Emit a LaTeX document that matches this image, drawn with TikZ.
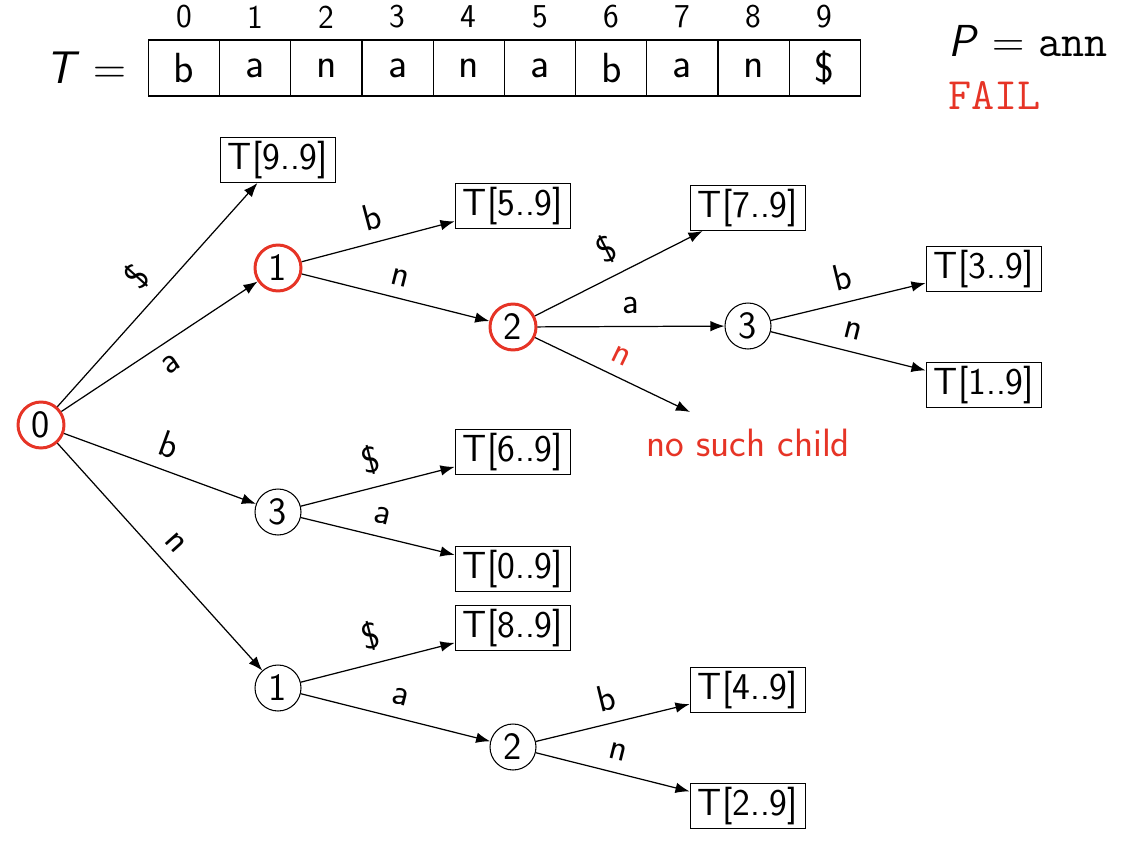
\documentclass[tikz,border=0pt]{standalone}
\usepackage{fontspec}
\usetikzlibrary{arrows.meta}
\definecolor{hlred}{RGB}{230,52,38}
\begin{document}
\begin{tikzpicture}[x=0.02cm,y=-0.02cm,
  every node/.style={font=\sffamily},
  st/.style={circle,draw,line width=0.6pt,minimum size=0.92cm,inner sep=0pt,font=\fontsize{22}{26}\selectfont\sffamily},
  hot/.style={draw=hlred,line width=1.7pt},
  leaf/.style={draw,line width=0.6pt,minimum height=0.9cm,inner xsep=4.5pt,inner ysep=0pt,font=\fontsize{21.5}{25}\selectfont\sffamily},
  edge/.style={-{Latex[length=8pt,width=6pt]},line width=0.7pt},
  lab/.style={font=\fontsize{21}{24}\selectfont\sffamily,sloped,above=3.5pt},
  labb/.style={font=\fontsize{21}{24}\selectfont\sffamily,sloped,below=3.5pt},
  cell/.style={draw,line width=0.6pt,minimum width=1.424cm,minimum height=1.12cm,inner sep=0pt,font=\fontsize{24}{28}\selectfont\sffamily},
  idx/.style={font=\fontsize{19}{22}\selectfont\sffamily}
]
\useasboundingbox (0,0) rectangle (1122,848);
% array
\foreach \c [count=\i from 0] in {b,a,n,a,n,a,b,a,n,\$} {
  \node[cell] (c\i) at ({184+71.2*\i},68) {\c};
  \node[idx] (i\i) at ({184+71.2*\i},17) {\i};
}
\node[font=\fontsize{26}{30}\selectfont\sffamily] (teq) at (86,68) {\textit{T} {\rmfamily =}};
\node[font=\fontsize{25.5}{30}\selectfont\sffamily,anchor=west] (peq) at (942,41) {\textit{P} {\rmfamily =} {\ttfamily ann}};
\node[font=\fontsize{25.5}{30}\selectfont\ttfamily,text=hlred,anchor=west] (fail) at (942,95) {FAIL};
% tree nodes
\node[st,hot] (r) at (41,425) {0};
\node[st,hot] (a) at (278,268) {1};
\node[st,hot] (an) at (513,327) {2};
\node[st] (ana) at (748,326) {3};
\node[st] (b) at (278,512) {3};
\node[st] (n) at (278,688) {1};
\node[st] (na) at (513,747) {2};
% leaves
\node[leaf] (l9) at (278,160) {T[9..9]};
\node[leaf] (l5) at (513,206) {T[5..9]};
\node[leaf] (l7) at (748,208) {T[7..9]};
\node[leaf] (l3) at (984,269) {T[3..9]};
\node[leaf] (l1) at (984,385) {T[1..9]};
\node[leaf] (l6) at (513,452) {T[6..9]};
\node[leaf] (l0) at (513,569) {T[0..9]};
\node[leaf] (l8) at (513,628) {T[8..9]};
\node[leaf] (l4) at (748,690) {T[4..9]};
\node[leaf] (l2) at (748,806) {T[2..9]};
\coordinate (miss) at (690,412);
\node[text=hlred,font=\fontsize{22.5}{26}\selectfont\sffamily] (nsc) at (748,443) {no such child};
% edges
\draw[edge] (r) -- node[lab]{\$} (l9);
\draw[edge] (r) -- node[labb]{a} (a);
\draw[edge] (r) -- node[lab]{b} (b);
\draw[edge] (r) -- node[lab]{n} (n);
\draw[edge] (a) -- node[lab]{b} (l5);
\draw[edge] (a) -- node[lab]{n} (an);
\draw[edge] (an) -- node[lab]{\$} (l7);
\draw[edge] (an) -- node[lab]{a} (ana);
\draw[edge] (an) -- node[lab,text=hlred]{n} (miss);
\draw[edge] (ana) -- node[lab]{b} (l3);
\draw[edge] (ana) -- node[lab]{n} (l1);
\draw[edge] (b) -- node[lab]{\$} (l6);
\draw[edge] (b) -- node[lab]{a} (l0);
\draw[edge] (n) -- node[lab]{\$} (l8);
\draw[edge] (n) -- node[lab]{a} (na);
\draw[edge] (na) -- node[lab]{b} (l4);
\draw[edge] (na) -- node[lab]{n} (l2);
\end{tikzpicture}
\end{document}
